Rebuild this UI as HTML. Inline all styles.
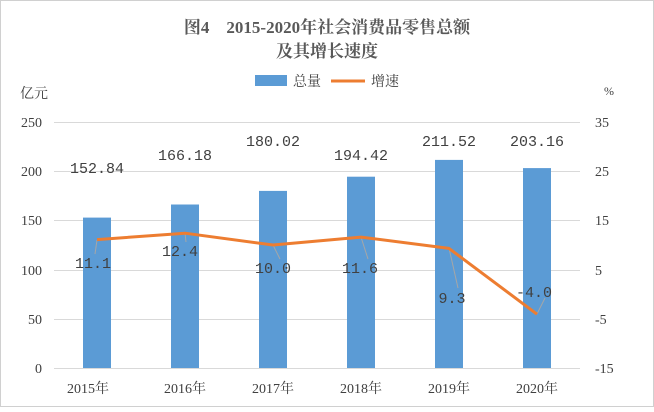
<!DOCTYPE html>
<html><head><meta charset="utf-8"><style>
body{margin:0;background:#fff}
svg text{font-family:"Liberation Serif","Noto Serif CJK SC",serif;fill:#404040}
svg .m{font-family:"Liberation Mono","Noto Serif CJK SC",monospace}
</style></head><body>
<svg width="654" height="407" viewBox="0 0 654 407" xmlns="http://www.w3.org/2000/svg">
<rect x="0.5" y="0.5" width="653" height="406" fill="#fff" stroke="#d0d0d0"/>
<text x="327" y="33" font-size="17" text-anchor="middle" font-weight="bold" style="fill:#595959">图4　2015-2020年社会消费品零售总额</text>
<text x="327" y="57" font-size="17" text-anchor="middle" font-weight="bold" style="fill:#595959">及其增长速度</text>
<rect x="255" y="75" width="32" height="11" fill="#5b9bd5"/>
<text x="293" y="86" font-size="14">总量</text>
<line x1="331" y1="81" x2="365" y2="81" stroke="#ed7d31" stroke-width="3"/>
<text x="371" y="86" font-size="14">增速</text>
<text x="20" y="98" font-size="14">亿元</text>
<text x="604" y="95" font-size="12">%</text>
<g stroke="#d9d9d9" stroke-width="1">
<line x1="54" y1="122.5" x2="580" y2="122.5"/>
<line x1="54" y1="171.5" x2="580" y2="171.5"/>
<line x1="54" y1="220.5" x2="580" y2="220.5"/>
<line x1="54" y1="270.5" x2="580" y2="270.5"/>
<line x1="54" y1="319.5" x2="580" y2="319.5"/>
<line x1="54" y1="368.5" x2="580" y2="368.5"/>
</g>
<g font-size="14" text-anchor="end">
<text x="42" y="127">250</text><text x="42" y="176">200</text><text x="42" y="225">150</text>
<text x="42" y="275">100</text><text x="42" y="324">50</text><text x="42" y="373">0</text>
</g>
<g font-size="14" text-anchor="start">
<text x="595" y="127">35</text><text x="595" y="176">25</text><text x="595" y="225">15</text>
<text x="595" y="275">5</text><text x="595" y="324">-5</text><text x="595" y="373">-15</text>
</g>
<g fill="#5b9bd5">
<rect x="83" y="217.6" width="28" height="150.4"/>
<rect x="171" y="204.5" width="28" height="163.5"/>
<rect x="259" y="190.9" width="28" height="177.1"/>
<rect x="347" y="176.7" width="28" height="191.3"/>
<rect x="435" y="159.9" width="28" height="208.1"/>
<rect x="523" y="168.1" width="28" height="199.9"/>
</g>
<g font-size="15" text-anchor="middle" class="m">
<text class="m" x="97" y="173">152.84</text><text class="m" x="185" y="160">166.18</text><text class="m" x="273" y="146">180.02</text>
<text class="m" x="361" y="160">194.42</text><text class="m" x="449" y="146">211.52</text><text class="m" x="537" y="146">203.16</text>
</g>
<g stroke="#a6a6a6" stroke-width="1">
<line x1="97" y1="240" x2="95" y2="254"/>
<line x1="185" y1="233" x2="186" y2="242"/>
<line x1="273" y1="245" x2="280" y2="259"/>
<line x1="361" y1="237" x2="368" y2="259"/>
<line x1="449" y1="248" x2="458" y2="288"/>
<line x1="537" y1="314" x2="545" y2="298"/>
</g>
<polyline points="97,239.6 185,233.2 273,245 361,237.1 449,248.4 537,314.2" fill="none" stroke="#ed7d31" stroke-width="3" stroke-linejoin="round"/>
<g font-size="15" text-anchor="middle">
<text class="m" x="93" y="268">11.1</text><text class="m" x="180" y="256">12.4</text><text class="m" x="273" y="273">10.0</text>
<text class="m" x="360" y="273">11.6</text><text class="m" x="452" y="303">9.3</text><text class="m" x="534" y="297">-4.0</text>
</g>
<g font-size="14" text-anchor="middle">
<text x="88" y="393">2015年</text><text x="185" y="393">2016年</text><text x="273" y="393">2017年</text>
<text x="361" y="393">2018年</text><text x="449" y="393">2019年</text><text x="537" y="393">2020年</text>
</g>
</svg>
</body></html>
